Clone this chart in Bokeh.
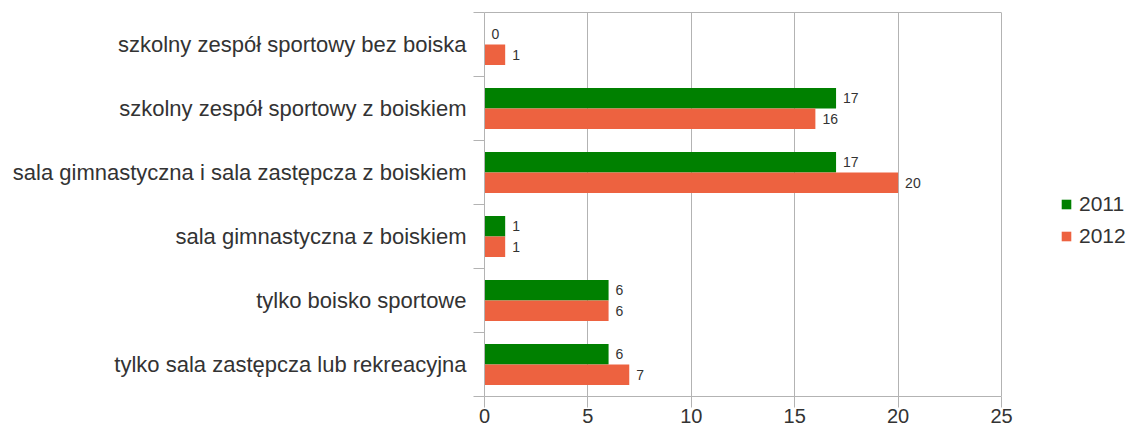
from bokeh.plotting import figure
from bokeh.models import Range1d, FixedTicker, Legend, LegendItem, ColumnDataSource, LinearAxis
from bokeh.core.properties import value
from bokeh.embed import file_html
from bokeh.resources import INLINE

# Data (categories listed top to bottom)
categories = [
    "szkolny zespół sportowy bez boiska",
    "szkolny zespół sportowy z boiskiem",
    "sala gimnastyczna i sala zastępcza z boiskiem",
    "sala gimnastyczna z boiskiem",
    "tylko boisko sportowe",
    "tylko sala zastępcza lub rekreacyjna",
]
values_2011 = [0, 17, 17, 1, 6, 6]
values_2012 = [1, 16, 20, 1, 6, 7]
series_names = ["2011", "2012"]
x_ticks = [0, 5, 10, 15, 20, 25]

GREEN = "#008000"
RED = "#ED6240"
GRID = "#b3b3b3"
TEXT = "#333333"
FONT = "Liberation Sans"

n = len(categories)
centers = [n - i - 0.5 for i in range(n)]
bar_h = 0.32
off = 0.16

# layout: value axis 0..25 occupies 517 px, the frame extends further right
# (to host the legend) without drawing anything there.
LEFT = 484
W = 1126
AXIS_PX = 517
x_max = x_ticks[-1]
x_end = x_max * (W - LEFT) / AXIS_PX

src_a = ColumnDataSource(dict(y=[c + off for c in centers], v=values_2011,
                              lab=[str(v) for v in values_2011]))
src_b = ColumnDataSource(dict(y=[c - off for c in centers], v=values_2012,
                              lab=[str(v) for v in values_2012]))

p = figure(width=W, height=432, output_backend="svg", toolbar_location=None,
           x_range=Range1d(0, x_end), y_range=Range1d(0, n),
           min_border_left=LEFT, min_border_right=0, min_border_top=12,
           min_border_bottom=36)
p.background_fill_color = "white"
p.border_fill_color = "white"
p.outline_line_color = None

ra = p.hbar(y="y", left=0, right="v", height=bar_h, source=src_a,
            fill_color=GREEN, line_color=None)
rb = p.hbar(y="y", left=0, right="v", height=bar_h, source=src_b,
            fill_color=RED, line_color=None)

for s in (src_a, src_b):
    p.text(x="v", y="y", text="lab", source=s, x_offset=7,
           text_baseline="middle", text_align="left",
           text_font=value(FONT), text_font_size="14px", text_color=TEXT)

# x axis
p.xaxis.ticker = FixedTicker(ticks=x_ticks)
p.xaxis.bounds = (0, x_max)
p.xaxis.axis_line_color = GRID
p.xaxis.major_tick_line_color = GRID
p.xaxis.major_tick_out = 11
p.xaxis.major_tick_in = 0
p.xaxis.minor_tick_line_color = None
p.xaxis.minor_tick_out = 0
p.xaxis.major_label_text_font = FONT
p.xaxis.major_label_text_font_size = "20px"
p.xaxis.major_label_text_color = TEXT
p.xaxis.major_label_standoff = 1

# top border line as a bare axis
top = LinearAxis(ticker=FixedTicker(ticks=[]), bounds=(0, x_max),
                 axis_line_color=GRID, major_tick_line_color=None,
                 minor_tick_line_color=None, major_tick_out=0, minor_tick_out=0,
                 major_label_standoff=0)
p.add_layout(top, "above")

# y axis
p.yaxis.ticker = FixedTicker(ticks=centers, minor_ticks=list(range(n + 1)))
p.yaxis.major_label_overrides = {c: name for c, name in zip(centers, categories)}
p.yaxis.axis_line_color = GRID
p.yaxis.major_tick_line_color = None
p.yaxis.major_tick_out = 0
p.yaxis.major_tick_in = 0
p.yaxis.minor_tick_line_color = GRID
p.yaxis.minor_tick_out = 11
p.yaxis.minor_tick_in = 0
p.yaxis.major_label_standoff = 7
p.yaxis.major_label_text_font = FONT
p.yaxis.major_label_text_font_size = "22px"
p.yaxis.major_label_text_color = TEXT

p.xgrid.ticker = FixedTicker(ticks=x_ticks)
p.xgrid.grid_line_color = GRID
p.ygrid.grid_line_color = None

legend = Legend(items=[LegendItem(label=series_names[0], renderers=[ra]),
                       LegendItem(label=series_names[1], renderers=[rb])],
                location=(576, 148), padding=0, margin=0, spacing=8,
                glyph_width=12, glyph_height=12, label_standoff=7,
                label_text_font=FONT, label_text_font_size="21px",
                label_text_color=TEXT, border_line_color=None,
                background_fill_alpha=0)
p.add_layout(legend, "center")

open("out.html", "w").write(file_html(p, INLINE))
